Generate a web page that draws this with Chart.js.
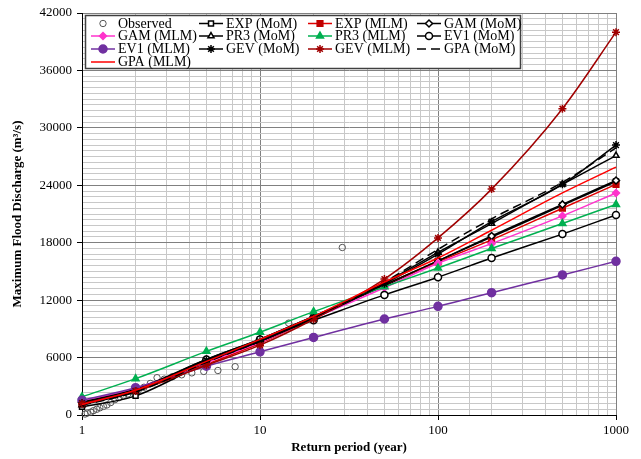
<!DOCTYPE html>
<html>
<head>
<meta charset="utf-8">
<script src="https://cdn.jsdelivr.net/npm/chart.js@4/dist/chart.umd.min.js"></script>
<style>
  body { margin: 0; background: #fff; }
  canvas { display: block; }
</style>
</head>
<body>
<canvas id="floodChart" width="641" height="459"></canvas>
<script>
// return periods used for the fitted curves
const returnPeriod = [1, 2, 5, 10, 20, 50, 100, 200, 500, 1000];

// fitted discharges (m3/s)
const expMoM = [850, 2000, 5500, 7900, 10300, 13500, 16100, 18600, 21900, 24400];
const expMLM = [1150, 2600, 5300, 7500, 10100, 13600, 16000, 18300, 21600, 24100];
const gamMoM = [1300, 2600, 5800, 7900, 10300, 13600, 16100, 18700, 22000, 24500];
const gamMLM = [1450, 2800, 5500, 7600, 10100, 13300, 15850, 17900, 20800, 23200];
const pr3MoM = [1050, 2450, 5600, 7700, 10200, 13800, 17000, 20000, 24100, 27100];
const pr3MLM = [1900, 3800, 6650, 8650, 10800, 13400, 15350, 17400, 20000, 22000];
const ev1MoM = [1350, 2700, 5800, 7900, 9900, 12550, 14400, 16400, 18900, 20900];
const ev1MLM = [1550, 2850, 5100, 6600, 8100, 10030, 11350, 12780, 14630, 16060];
const gevMoM = [1250, 2500, 5700, 7700, 10100, 13700, 16800, 20200, 24100, 28200];
const gevMLM = [1200, 2500, 5200, 7300, 10000, 14200, 18500, 23600, 32000, 40000];
const gpaMoM = [1000, 2400, 5500, 7700, 10200, 13900, 17300, 20500, 24300, 27900];
const gpaMLM = [1100, 2600, 5600, 7900, 10300, 13900, 16400, 19300, 23200, 25900];

// observed annual maxima with their plotting-position return periods
const obsT = [29, 14.5, 9.67, 7.25, 5.8, 4.83, 4.14, 3.63, 3.22, 2.9, 2.64, 2.42, 2.23, 2.07,
              1.93, 1.81, 1.71, 1.61, 1.53, 1.45, 1.38, 1.32, 1.26, 1.21, 1.16, 1.12, 1.07, 1.04];
const obsQ = [17500, 9600, 7500, 5050, 4650, 4550, 4400, 4200, 4000, 3750, 3900, 3300, 2900, 2600,
              2400, 2200, 2000, 1800, 1600, 1300, 1050, 900, 750, 600, 450, 300, 200, 100];

const xTicks = [1, 10, 100, 1000];
const yMax = 42000;

function pts(xs, ys) {
  return xs.map((x, i) => ({ x: x, y: ys[i] }));
}

function curve(label, values, color, style, filled, extra) {
  return Object.assign({
    label: label,
    data: pts(returnPeriod, values),
    showLine: true,
    cubicInterpolationMode: 'monotone', // smoothed lines like the original
    clip: 6,
    borderColor: color,
    borderWidth: 1.5,
    pointStyle: style,
    pointRadius: style ? 3.5 : 0,
    pointBorderColor: color,
    pointBorderWidth: 1.5,
    pointBackgroundColor: filled ? color : '#ffffff'
  }, extra || {});
}

const datasets = [
  {
    label: 'Observed',
    data: pts(obsT, obsQ),
    showLine: false,
    clip: 6,
    pointStyle: 'circle',
    pointRadius: 3.2,
    pointBorderColor: '#555555',
    pointBorderWidth: 1,
    pointBackgroundColor: 'rgba(255,255,255,0)'
  },
  curve('EXP (MoM)', expMoM, '#000000', 'rect', false),
  curve('EXP (MLM)', expMLM, '#e00000', 'rect', true, { pointBackgroundColor: '#c00000', pointBorderColor: '#c00000', pointRadius: 4 }),
  curve('GAM (MoM)', gamMoM, '#000000', 'rectRot', false),
  curve('GAM (MLM)', gamMLM, '#ff33cc', 'rectRot', true),
  curve('PR3 (MoM)', pr3MoM, '#000000', 'triangle', false),
  curve('PR3 (MLM)', pr3MLM, '#00b050', 'triangle', true, { pointRadius: 4 }),
  curve('EV1 (MoM)', ev1MoM, '#000000', 'circle', false),
  curve('EV1 (MLM)', ev1MLM, '#7030a0', 'circle', true, { pointRadius: 4 }),
  curve('GEV (MoM)', gevMoM, '#000000', 'star', true, { pointRadius: 4 }),
  curve('GEV (MLM)', gevMLM, '#a00000', 'star', true, { pointRadius: 4 }),
  curve('GPA (MoM)', gpaMoM, '#000000', false, false, { borderDash: [9, 5] }),
  curve('GPA (MLM)', gpaMLM, '#ff0000', false, false)
];
// later series drawn on top, like the spreadsheet
datasets.forEach((d, i) => { d.order = datasets.length - i; });

function isDecade(v) {
  const l = Math.log10(v);
  return Math.abs(l - Math.round(l)) < 1e-9;
}

// legend drawn inside the plot, 4 columns
const boxLegend = {
  id: 'boxLegend',
  afterDraw(chart) {
    const ctx = chart.ctx;
    const cols = [91, 199, 308, 417];
    const rows = [23.5, 36, 49, 62];
    ctx.save();
    ctx.fillStyle = '#ffffff';
    ctx.fillRect(85.5, 15.5, 435, 53);
    ctx.strokeStyle = '#404040';
    ctx.lineWidth = 1.5;
    ctx.strokeRect(85.5, 15.5, 435, 53);
    ctx.font = '14px "Liberation Serif", "Times New Roman", serif';
    ctx.textBaseline = 'middle';
    chart.data.datasets.forEach((d, i) => {
      const x = cols[i % 4];
      const y = rows[Math.floor(i / 4)];
      if (d.showLine) {
        ctx.beginPath();
        ctx.setLineDash(d.borderDash || []);
        ctx.strokeStyle = d.borderColor;
        ctx.lineWidth = d.borderWidth;
        ctx.moveTo(x, y);
        ctx.lineTo(x + 24, y);
        ctx.stroke();
        ctx.setLineDash([]);
      }
      if (d.pointStyle) {
        ctx.fillStyle = d.pointBackgroundColor;
        ctx.strokeStyle = d.pointBorderColor;
        ctx.lineWidth = d.pointBorderWidth;
        Chart.helpers.drawPoint(ctx, {
          pointStyle: d.pointStyle,
          radius: d.pointRadius,
          rotation: 0,
          borderWidth: d.pointBorderWidth
        }, x + 12, y);
      }
      ctx.fillStyle = '#000000';
      ctx.fillText(d.label, x + 27, y + 0.5);
    });
    ctx.restore();
  }
};

const serif = '"Liberation Serif", "Times New Roman", serif';

new Chart(document.getElementById('floodChart'), {
  type: 'scatter',
  data: { datasets: datasets },
  options: {
    responsive: false,
    animation: false,
    devicePixelRatio: 1,
    layout: { padding: { left: 6, top: 13, right: 25, bottom: 0 } },
    plugins: {
      legend: { display: false },
      tooltip: { enabled: false }
    },
    scales: {
      x: {
        type: 'logarithmic',
        min: 1,
        max: 1000,
        afterFit: (s) => { s.height = 44; },
        border: { color: '#000000', width: 1 },
        grid: {
          color: (c) => isDecade(c.tick.value) ? '#808080' : '#c8c8c8',
          tickColor: (c) => isDecade(c.tick.value) ? '#000000' : 'rgba(0,0,0,0)',
          tickLength: 5
        },
        ticks: {
          autoSkip: false,
          maxRotation: 0,
          padding: 3,
          color: '#000000',
          font: { family: serif, size: 13 },
          callback: (v) => xTicks.includes(v) ? String(v) : ''
        },
        title: {
          display: true,
          text: 'Return period (year)',
          color: '#000000',
          padding: { top: 0, bottom: 4 },
          font: { family: serif, size: 13, weight: 'bold' }
        }
      },
      y: {
        min: 0,
        max: yMax,
        afterFit: (s) => { s.width = 76; },
        border: { color: '#000000', width: 1 },
        grid: {
          color: (c) => c.tick.value % 6000 === 0 ? '#808080' : '#c8c8c8',
          tickColor: (c) => c.tick.value % 6000 === 0 ? '#000000' : 'rgba(0,0,0,0)',
          tickLength: 5
        },
        ticks: {
          stepSize: 600,
          autoSkip: false,
          padding: 5,
          color: '#000000',
          font: { family: serif, size: 13 },
          callback: (v) => v % 6000 === 0 ? String(v) : ''
        },
        title: {
          display: true,
          text: 'Maximum Flood Discharge (m³/s)',
          color: '#000000',
          padding: { top: 4, bottom: 0 },
          font: { family: serif, size: 13, weight: 'bold' }
        }
      }
    }
  },
  plugins: [boxLegend]
});
</script>
</body>
</html>
